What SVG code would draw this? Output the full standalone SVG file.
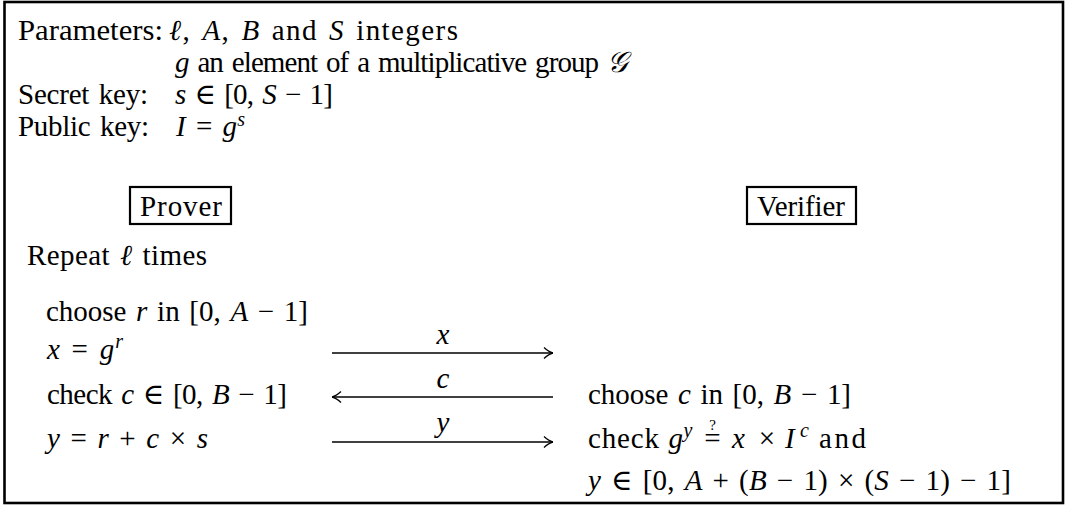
<svg xmlns="http://www.w3.org/2000/svg" width="1067" height="507" viewBox="0 0 1067 507">
<defs>
<style>
.t{font-family:"Liberation Serif","Times New Roman","DejaVu Serif",serif;font-size:29px;fill:#000;word-spacing:2.5px}
.i{font-style:italic}
.sup{font-size:20px}
.box{fill:none;stroke:#000;stroke-width:2.2}
.arr{stroke:#000;stroke-width:1.3;fill:none;marker-end:url(#ah)}
</style>
<marker id="ah" viewBox="0 0 10 14" refX="10" refY="7" markerWidth="10" markerHeight="14" markerUnits="userSpaceOnUse" orient="auto">
<path d="M1,1.5 Q6,6 10,7 Q6,8 1,12.5" fill="none" stroke="#000" stroke-width="1.3"/>
</marker>
</defs>
<rect width="1067" height="507" fill="#fff"/>
<rect id="frame" x="4.5" y="2" width="1058.5" height="501" fill="none" stroke="#000" stroke-width="2.6"/>

<g id="header" font-family="Liberation Serif, serif">
<text class="t" x="18" y="40" textLength="145" lengthAdjust="spacingAndGlyphs">Parameters:</text>
<text class="t" x="169" y="40" textLength="289" lengthAdjust="spacing"><tspan class="i">ℓ</tspan>, <tspan class="i">A</tspan>, <tspan class="i">B</tspan> and <tspan class="i">S</tspan> integers</text>
<text class="t" x="175" y="72" textLength="453" lengthAdjust="spacing"><tspan class="i">g</tspan> an element of a multiplicative group <tspan class="i">𝒢</tspan></text>
<text class="t" x="18" y="104" textLength="130" lengthAdjust="spacing">Secret key:</text>
<text class="t" x="175" y="104" textLength="158" lengthAdjust="spacing"><tspan class="i">s</tspan> ∈ [0, <tspan class="i">S</tspan> − 1]</text>
<text class="t" x="18" y="136" textLength="131" lengthAdjust="spacing">Public key:</text>
<text class="t" x="176" y="136" textLength="69" lengthAdjust="spacing"><tspan class="i">I</tspan> = <tspan class="i">g</tspan><tspan class="i sup" dy="-10">s</tspan></text>
</g>

<g id="prover" font-family="Liberation Serif, serif">
<rect class="box" x="130" y="187" width="101" height="37"/>
<text class="t" x="140" y="216" textLength="82" lengthAdjust="spacing">Prover</text>
</g>

<g id="verifier" font-family="Liberation Serif, serif">
<rect class="box" x="747" y="187" width="109" height="37"/>
<text class="t" x="757" y="216" textLength="88" lengthAdjust="spacing">Verifier</text>
</g>

<g id="prover-steps" font-family="Liberation Serif, serif">
<text class="t" x="27" y="265" textLength="180" lengthAdjust="spacing">Repeat <tspan class="i">ℓ</tspan> times</text>
<text class="t" x="46" y="321" textLength="262" lengthAdjust="spacing">choose <tspan class="i">r</tspan> in [0, <tspan class="i">A</tspan> − 1]</text>
<text class="t" x="47" y="359" textLength="76" lengthAdjust="spacing"><tspan class="i">x</tspan> = <tspan class="i">g</tspan><tspan class="i sup" dy="-11">r</tspan></text>
<text class="t" x="47" y="404" textLength="240" lengthAdjust="spacing">check <tspan class="i">c</tspan> ∈ [0, <tspan class="i">B</tspan> − 1]</text>
<text class="t" x="47" y="448" textLength="161" lengthAdjust="spacing"><tspan class="i">y</tspan> = <tspan class="i">r</tspan> + <tspan class="i">c</tspan> × <tspan class="i">s</tspan></text>
</g>

<g id="verifier-steps" font-family="Liberation Serif, serif">
<text class="t" x="588" y="404" textLength="263" lengthAdjust="spacing">choose <tspan class="i">c</tspan> in [0, <tspan class="i">B</tspan> − 1]</text>
<text class="t" x="588" y="448" textLength="71" lengthAdjust="spacing">check</text>
<text class="t i" x="668.5" y="448">g</text>
<text class="t i sup" x="683.5" y="437">y</text>
<text class="t" x="712.5" y="448" text-anchor="middle">=</text>
<text class="t" x="712.5" y="430" text-anchor="middle" style="font-size:15px">?</text>
<text class="t i" x="732" y="448">x</text>
<text class="t" x="767" y="448" text-anchor="middle">×</text>
<text class="t i" x="785" y="448">I</text>
<text class="t i sup" x="800" y="437">c</text>
<text class="t" x="819" y="448" textLength="47" lengthAdjust="spacing">and</text>
<text class="t" x="588" y="490" textLength="423" lengthAdjust="spacing"><tspan class="i">y</tspan> ∈ [0, <tspan class="i">A</tspan> + (<tspan class="i">B</tspan> − 1) × (<tspan class="i">S</tspan> − 1) − 1]</text>
</g>

<g id="connectors" font-family="Liberation Serif, serif">
<line class="arr" x1="332" y1="353" x2="553" y2="353"/>
<text class="t i" x="443" y="344" text-anchor="middle">x</text>
<line class="arr" x1="553" y1="397" x2="332" y2="397"/>
<text class="t i" x="443" y="388" text-anchor="middle">c</text>
<line class="arr" x1="332" y1="442" x2="553" y2="442"/>
<text class="t i" x="443" y="432" text-anchor="middle">y</text>
</g>
</svg>
